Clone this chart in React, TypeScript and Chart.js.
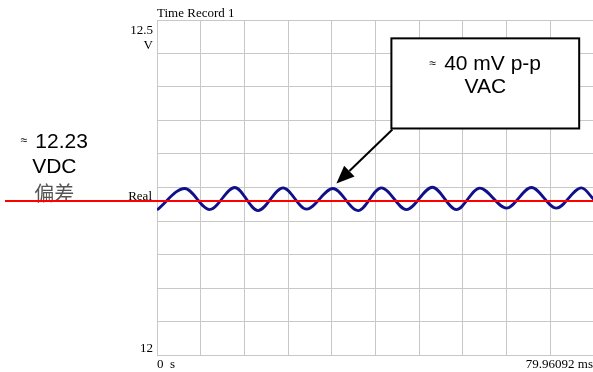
import { useEffect, useRef } from "react";
import { Chart, registerables } from "chart.js";

Chart.register(...registerables);

// Record and axis text
const RECORD_TITLE = "Time Record 1";
const X_MAX_MS = 79.96092;
const X_START_LABEL = "0  s";
const X_END_LABEL = "79.96092 ms";
const Y_MIN = 12;
const Y_MAX = 12.5;
const Y_GRID = [12, 12.05, 12.1, 12.15, 12.2, 12.25, 12.3, 12.35, 12.4, 12.45, 12.5];
const Y_TOP_LABEL = ["12.5", "V"];
const Y_BOTTOM_LABEL = "12";
const TRACE_LABEL = "Real";

// Ripple trace: extremes of the measured waveform (ms, V)
const TIME_MS = [
  0, 5.07, 9.64, 14.22, 18.48, 23.06, 27.34, 32.2, 36.78, 41.06, 45.64, 50.39, 54.78, 59.05, 63.93,
  68.51, 73.08, 77.66, 79.96,
];
const VOLTS = [
  12.2165, 12.2485, 12.2171, 12.25, 12.2156, 12.2495, 12.2178, 12.2485, 12.2156, 12.2495, 12.2171,
  12.2504, 12.2171, 12.2492, 12.2193, 12.25, 12.2193, 12.2495, 12.232,
];

// DC offset marker and notes
const DC_LEVEL = 12.23;
const APPROX = "≈";
const DC_NOTE = ["12.23", "VDC", "偏差"];
const AC_NOTE = ["40 mV p-p", "VAC"];

const SERIF = '"Liberation Serif", "Times New Roman", serif';
const SANS = '"Liberation Sans", Arial, sans-serif';
const CJK = '"Noto Sans CJK SC", "Noto Sans CJK TC", sans-serif';
const GRID_COLOR = "#c8c8c8";
const NOTE_SIZE = 21;

const notesPlugin = {
  id: "scopeNotes",
  afterDraw(chart: any) {
    const { ctx, chartArea, scales } = chart;
    const xs = scales.x;
    const ys = scales.y;
    ctx.save();

    // axis captions
    ctx.fillStyle = "#000";
    ctx.font = `13px ${SERIF}`;
    ctx.textBaseline = "alphabetic";
    ctx.textAlign = "left";
    ctx.fillText(RECORD_TITLE, chartArea.left, chartArea.top - 3.5);

    const labelX = chartArea.left - 4;
    ctx.textAlign = "right";
    const yTop = ys.getPixelForValue(Y_MAX);
    ctx.fillText(Y_TOP_LABEL[0], labelX, yTop + 13.5);
    ctx.fillText(Y_TOP_LABEL[1], labelX, yTop + 28.5);
    ctx.fillText(Y_BOTTOM_LABEL, labelX, ys.getPixelForValue(Y_MIN) - 3);
    ctx.fillText(TRACE_LABEL, labelX - 1, ys.getPixelForValue(DC_LEVEL) - 1);

    const xBase = ys.getPixelForValue(Y_MIN) + 13;
    ctx.textAlign = "left";
    ctx.fillText(X_START_LABEL, xs.getPixelForValue(0), xBase);
    ctx.textAlign = "right";
    ctx.fillText(X_END_LABEL, xs.getPixelForValue(X_MAX_MS) - 1, xBase);

    // "≈ value" line, with a small approx sign in front
    const drawApproxLine = (text: string, cx: number, cy: number, size: number) => {
      ctx.font = `12px ${SANS}`;
      const wa = ctx.measureText(APPROX).width;
      ctx.font = `${size}px ${SANS}`;
      const gap = 8;
      const wt = ctx.measureText(text).width;
      const left = cx - (wa + gap + wt) / 2;
      ctx.textAlign = "left";
      ctx.textBaseline = "middle";
      ctx.font = `12px ${SANS}`;
      ctx.fillText(APPROX, left, cy - 1);
      ctx.font = `${size}px ${SANS}`;
      ctx.fillText(text, left + wa + gap, cy);
    };

    // DC note on the left
    const noteCx = chartArea.left - 102.7;
    ctx.fillStyle = "#000";
    drawApproxLine(DC_NOTE[0], noteCx, 142, NOTE_SIZE);
    ctx.textAlign = "center";
    ctx.textBaseline = "middle";
    ctx.font = `${NOTE_SIZE}px ${SANS}`;
    ctx.fillText(DC_NOTE[1], noteCx, 167);
    ctx.fillStyle = "#555";
    ctx.font = `20px ${CJK}`;
    ctx.fillText(DC_NOTE[2], noteCx, 193);

    // AC callout box
    const bx0 = xs.getPixelForValue(42.89);
    const bx1 = xs.getPixelForValue(77.25);
    const by0 = ys.getPixelForValue(12.4726);
    const by1 = ys.getPixelForValue(12.3381);
    ctx.fillStyle = "#fff";
    ctx.fillRect(bx0, by0, bx1 - bx0, by1 - by0);
    ctx.strokeStyle = "#000";
    ctx.lineWidth = 2;
    ctx.strokeRect(bx0, by0, bx1 - bx0, by1 - by0);
    ctx.fillStyle = "#000";
    const bcx = (bx0 + bx1) / 2;
    drawApproxLine(AC_NOTE[0], bcx, by0 + 26, NOTE_SIZE);
    ctx.textAlign = "center";
    ctx.textBaseline = "middle";
    ctx.font = `${NOTE_SIZE}px ${SANS}`;
    ctx.fillText(AC_NOTE[1], bcx, by0 + 49);

    // arrow to the ripple
    const ax0 = bx0 + 1;
    const ay0 = by1 + 1;
    const tx = xs.getPixelForValue(32.83);
    const ty = ys.getPixelForValue(12.2559);
    const ang = Math.atan2(ty - ay0, tx - ax0);
    const headLen = 18;
    const headHalf = 7.5;
    const bxh = tx - headLen * Math.cos(ang);
    const byh = ty - headLen * Math.sin(ang);
    ctx.beginPath();
    ctx.moveTo(ax0, ay0);
    ctx.lineTo(bxh, byh);
    ctx.lineWidth = 2;
    ctx.stroke();
    ctx.beginPath();
    ctx.moveTo(tx, ty);
    ctx.lineTo(bxh + headHalf * Math.sin(ang), byh - headHalf * Math.cos(ang));
    ctx.lineTo(bxh - headHalf * Math.sin(ang), byh + headHalf * Math.cos(ang));
    ctx.closePath();
    ctx.fill();

    // DC level line across the whole record
    const dcY = ys.getPixelForValue(DC_LEVEL);
    ctx.beginPath();
    ctx.moveTo(5, dcY);
    ctx.lineTo(chart.width, dcY);
    ctx.strokeStyle = "#ff0000";
    ctx.lineWidth = 2;
    ctx.stroke();

    ctx.restore();
  },
};

export default function App() {
  const canvasRef = useRef<HTMLCanvasElement | null>(null);

  useEffect(() => {
    const canvas = canvasRef.current;
    if (!canvas) return;
    const chart = new Chart(canvas, {
      type: "line",
      data: {
        datasets: [
          {
            label: TRACE_LABEL,
            data: TIME_MS.map((t, i) => ({ x: t, y: VOLTS[i] })),
            borderColor: "#10108a",
            borderWidth: 2.8,
            pointRadius: 0,
            cubicInterpolationMode: "monotone",
            fill: false,
          },
        ],
      },
      options: {
        responsive: false,
        animation: false,
        devicePixelRatio: 1,
        layout: { padding: { left: 157, top: 20, right: 6, bottom: 17 } },
        plugins: {
          legend: { display: false },
          tooltip: { enabled: false },
          title: { display: false },
        },
        scales: {
          x: {
            type: "linear",
            min: 0,
            max: X_MAX_MS,
            afterBuildTicks: (scale: any) => {
              scale.ticks = Array.from({ length: 11 }, (_, i) => ({ value: (X_MAX_MS * i) / 10 }));
            },
            ticks: { display: false },
            grid: { color: GRID_COLOR, lineWidth: 1, drawTicks: false },
            border: { color: GRID_COLOR, width: 1 },
          },
          y: {
            type: "linear",
            min: Y_MIN,
            max: Y_MAX,
            afterBuildTicks: (scale: any) => {
              scale.ticks = Y_GRID.map((v) => ({ value: v }));
            },
            ticks: { display: false },
            grid: { color: GRID_COLOR, lineWidth: 1, drawTicks: false },
            border: { color: GRID_COLOR, width: 1 },
          },
        },
      },
      plugins: [notesPlugin],
    });
    return () => chart.destroy();
  }, []);

  return (
    <div
      style={{
        position: "fixed",
        left: 0,
        top: 0,
        width: 593,
        height: 372,
        overflow: "hidden",
        background: "#fff",
      }}
    >
      <canvas ref={canvasRef} width={600} height={372} style={{ display: "block", width: 600, height: 372 }} />
    </div>
  );
}
